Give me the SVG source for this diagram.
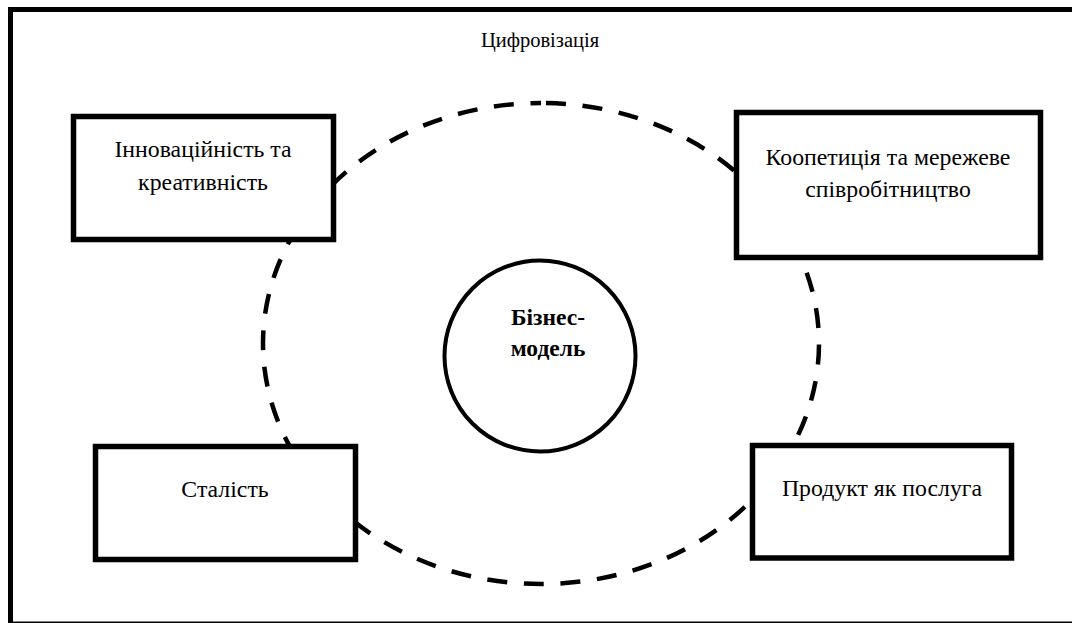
<svg xmlns="http://www.w3.org/2000/svg" width="1072" height="623" viewBox="0 0 1072 623">
<style>
.box{fill:#fff;stroke:#000;stroke-width:5.5}
.t{font-family:'Liberation Serif','Times New Roman',serif;font-size:23.8px;fill:#000;text-anchor:middle}
.h{font-size:20.5px}
.b{font-weight:bold;font-size:23.5px}
</style>
<rect width="1072" height="623" fill="#fff"/>
<g id="frame">
<rect x="10.5" y="9.5" width="1080" height="614.5" fill="none" stroke="#000" stroke-width="5"/>
<text class="t h" x="540" y="47">Цифровізація</text>
</g>
<g id="connectors">
<path d="M541,103 A278,240.5 0 0 1 541,584 A278,240.5 0 0 1 541,103 Z" fill="none" stroke="#000" stroke-width="4.5" stroke-dasharray="20 16.7" stroke-dashoffset="-5"/>
</g>
<g id="center">
<circle cx="540" cy="356" r="95.5" fill="#fff" stroke="#000" stroke-width="4"/>
<text class="t b" x="548" y="325">Бізнес-</text>
<text class="t b" x="548" y="356">модель</text>
</g>
<g id="innovation">
<rect class="box" x="73.5" y="116.5" width="260" height="123"/>
<text class="t" x="203" y="157">Інноваційність та</text>
<text class="t" x="203" y="190">креативність</text>
</g>
<g id="coopetition">
<rect class="box" x="736.5" y="112.5" width="304" height="145"/>
<text class="t" x="888" y="165">Коопетиція та мережеве</text>
<text class="t" x="888" y="197">співробітництво</text>
</g>
<g id="sustainability">
<rect class="box" x="95.5" y="446.5" width="260" height="113"/>
<text class="t" x="225" y="497">Сталість</text>
</g>
<g id="product">
<rect class="box" x="752.5" y="445.5" width="259" height="112.5"/>
<text class="t" x="882" y="496">Продукт як послуга</text>
</g>
</svg>
